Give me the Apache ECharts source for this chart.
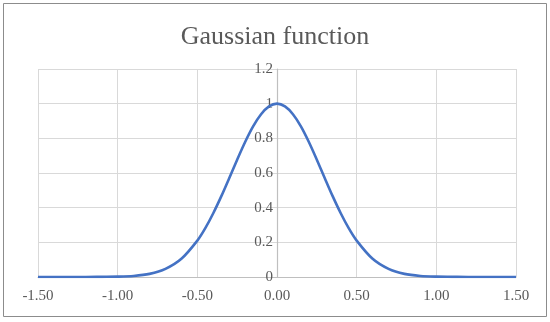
<!DOCTYPE html>
<html><head><meta charset="utf-8">
<script src="https://cdn.jsdelivr.net/npm/echarts@6/dist/echarts.min.js"></script>
<style>html,body{margin:0;padding:0;background:#fff}#c{width:550px;height:322px}</style>
</head><body><div id="c"></div>
<script>
const titleText = 'Gaussian function';
const xValues = [-1.5,-1.4,-1.3,-1.2,-1.1,-1.0,-0.9,-0.8,-0.7,-0.6,-0.5,-0.45,-0.4,-0.35,-0.3,-0.25,-0.2,-0.15,-0.1,-0.05,0,0.05,0.1,0.15,0.2,0.25,0.3,0.35,0.4,0.45,0.5,0.6,0.7,0.8,0.9,1.0,1.1,1.2,1.3,1.4,1.5];
const yValues = [0,0,0,0,0.001,0.002,0.006,0.018,0.047,0.105,0.21,0.282,0.368,0.465,0.57,0.677,0.779,0.869,0.939,0.984,1,0.984,0.939,0.869,0.779,0.677,0.57,0.465,0.368,0.282,0.21,0.105,0.047,0.018,0.006,0.002,0.001,0,0,0,0];
const xTicks = [-1.5,-1.0,-0.5,0,0.5,1.0,1.5];
const yTicks = [0,0.2,0.4,0.6,0.8,1,1.2];

const FONT = '"Liberation Serif", serif';
const W = 550, GL = 38, GR = 34;
const xMin = xTicks[0], xMax = xTicks[xTicks.length-1];
const yOffset = -((W - GL - GR) * (0 - xMin) / (xMax - xMin));
const chart = echarts.init(document.getElementById('c'), null, {renderer:'canvas'});
chart.setOption({
  animation:false,
  backgroundColor:'#fff',
  graphic:[{type:'rect',shape:{x:3.5,y:3.5,width:543,height:313},style:{fill:'none',stroke:'#8c8c8c',lineWidth:1},silent:true}],
  title:{text:titleText,left:'center',top:19,textStyle:{fontFamily:FONT,fontSize:26,fontWeight:'normal',color:'#595959'}},
  grid:{left:GL,right:GR,top:69,bottom:45,containLabel:false},
  xAxis:{type:'value',min:xMin,max:xMax,interval:0.5,
    axisLine:{show:true,onZero:false,lineStyle:{color:'#bfbfbf',width:1}},
    axisTick:{show:false},
    axisLabel:{margin:12,color:'#595959',fontFamily:FONT,fontSize:15,formatter:v=>v.toFixed(2)},
    splitLine:{show:true,lineStyle:{color:'#d9d9d9',width:1}}},
  yAxis:{type:'value',min:yTicks[0],max:yTicks[yTicks.length-1],interval:0.2,position:'left',offset:yOffset,
    axisLine:{show:true,onZero:false,lineStyle:{color:'#bfbfbf',width:1.2}},
    axisTick:{show:false},
    axisLabel:{margin:4,color:'#595959',fontFamily:FONT,fontSize:15,formatter:v=>String(+v.toFixed(1))},
    splitLine:{show:true,lineStyle:{color:'#d9d9d9',width:1}}},
  series:[{type:'line',data:xValues.map((x,i)=>[x,yValues[i]]),smooth:0.3,showSymbol:false,z:5,
    lineStyle:{color:'#4472C4',width:2.6}}]
});
</script></body></html>
